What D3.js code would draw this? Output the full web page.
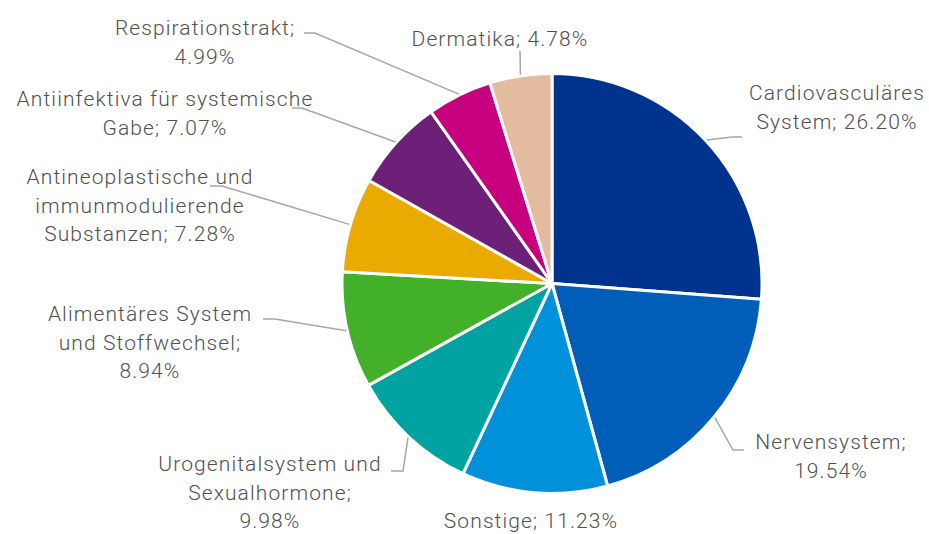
<!DOCTYPE html>
<html>
<head>
<meta charset="utf-8">
<script src="https://cdn.jsdelivr.net/npm/d3@7"></script>
<style>
  body { margin: 0; background: #fff; }
  text { font-family: Roboto, "Open Sans", sans-serif; font-weight: 300; fill: #505050; font-size: 21px; letter-spacing: 1.1px; }
</style>
</head>
<body>
<div id="chart"></div>
<script>
// Therapeutic areas, clockwise from 12 o'clock
const categories = [
  "Cardiovasculäres System", "Nervensystem", "Sonstige", "Urogenitalsystem und Sexualhormone",
  "Alimentäres System und Stoffwechsel", "Antineoplastische und immunmodulierende Substanzen",
  "Antiinfektiva für systemische Gabe", "Respirationstrakt", "Dermatika"
];
const shares = [26.20, 19.54, 11.23, 9.98, 8.94, 7.28, 7.07, 4.99, 4.78];
const colors = ["#00338D", "#005EB8", "#0091DA", "#00A3A1", "#43B02A", "#EAAA00", "#6D2077", "#C6007E", "#E3BC9F"];
// label text as it wraps in the picture
const labelLines = [
  ["Cardiovasculäres", "System; 26.20%"],
  ["Nervensystem;", "19.54%"],
  ["Sonstige; 11.23%"],
  ["Urogenitalsystem und", "Sexualhormone;", "9.98%"],
  ["Alimentäres System", "und Stoffwechsel;", "8.94%"],
  ["Antineoplastische und", "immunmodulierende", "Substanzen; 7.28%"],
  ["Antiinfektiva für systemische", "Gabe; 7.07%"],
  ["Respirationstrakt;", "4.99%"],
  ["Dermatika; 4.78%"]
];

const width = 929, height = 534;
const cx = 552, cy = 283.5, radius = 210;
const lineH = 28.7;

// label placement: x = text centre, y = first baseline, leader = elbow + end point (null = none)
const labelPos = [
  { x: 837, y: 100, elbow: [732, 137], end: [742, 137] },
  { x: 831, y: 449, elbow: [733, 450], end: [744, 450] },
  { x: 531, y: 528, elbow: null },
  { x: 270, y: 471, elbow: [403, 471], end: [391, 471] },
  { x: 150, y: 321, elbow: [275, 319], end: [263, 319] },
  { x: 140, y: 184, elbow: [222, 186], end: [210, 186] },
  { x: 165, y: 106, elbow: [302, 108], end: [292, 108] },
  { x: 205, y: 35, elbow: [315, 33], end: [304, 33] },
  { x: 500, y: 46, elbow: [520, 51], end: [520, 51] }
];

const data = categories.map((c, i) => ({ name: c, value: shares[i], color: colors[i], lines: labelLines[i], pos: labelPos[i] }));

const svg = d3.select("#chart").append("svg")
  .attr("width", width).attr("height", height);

const pie = d3.pie().value(d => d.value).sort(null);
const arc = d3.arc().innerRadius(0).outerRadius(radius);
const arcs = pie(data);

const g = svg.append("g").attr("transform", `translate(${cx},${cy})`);

g.selectAll("path.slice")
  .data(arcs)
  .join("path")
  .attr("class", "slice")
  .attr("d", arc)
  .attr("fill", d => d.data.color)
  .attr("stroke", "#fff")
  .attr("stroke-width", 3)
  .attr("stroke-linejoin", "round");

// leader lines from the middle of each slice's rim
const leaders = svg.append("g");
arcs.forEach(d => {
  const p = d.data.pos;
  if (!p.elbow) return;
  const mid = (d.startAngle + d.endAngle) / 2;
  const sx = cx + (radius + 1) * Math.sin(mid);
  const sy = cy - (radius + 1) * Math.cos(mid);
  leaders.append("polyline")
    .attr("points", [[sx, sy], p.elbow, p.end].map(q => q.join(",")).join(" "))
    .attr("fill", "none")
    .attr("stroke", "#a6a6a6")
    .attr("stroke-width", 1.5);
});

const labels = svg.append("g");
data.forEach(d => {
  const t = labels.append("text")
    .attr("text-anchor", "middle");
  d.lines.forEach((ln, i) => {
    t.append("tspan")
      .attr("x", d.pos.x)
      .attr("y", d.pos.y + i * lineH)
      .text(ln);
  });
});
</script>
</body>
</html>
